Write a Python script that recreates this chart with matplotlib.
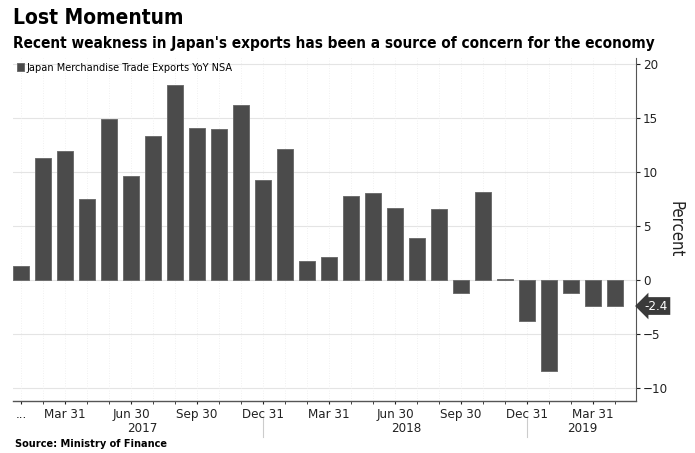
import matplotlib.pyplot as plt
from matplotlib.transforms import blended_transform_factory

plt.rcParams["font.family"] = ["DejaVu Sans"]
plt.rcParams["font.stretch"] = "condensed"

SERIES_NAME = "Japan Merchandise Trade Exports YoY NSA"
MONTHS = [
    "2017-01", "2017-02", "2017-03", "2017-04", "2017-05", "2017-06",
    "2017-07", "2017-08", "2017-09", "2017-10", "2017-11", "2017-12",
    "2018-01", "2018-02", "2018-03", "2018-04", "2018-05", "2018-06",
    "2018-07", "2018-08", "2018-09", "2018-10", "2018-11", "2018-12",
    "2019-01", "2019-02", "2019-03", "2019-04",
]
EXPORTS_YOY = [
    1.3, 11.3, 12.0, 7.5, 14.9, 9.7, 13.4, 18.1, 14.1, 14.0, 16.2, 9.3,
    12.2, 1.8, 2.1, 7.8, 8.1, 6.7, 3.9, 6.6, -1.2, 8.2, 0.1, -3.8,
    -8.4, -1.2, -2.4, -2.4,
]
TICK_MONTHS = [
    "2017-01", "2017-03", "2017-06", "2017-09", "2017-12",
    "2018-03", "2018-06", "2018-09", "2018-12", "2019-03",
]
TICK_LABELS = [
    "...", "Mar 31", "Jun 30", "Sep 30", "Dec 31",
    "Mar 31", "Jun 30", "Sep 30", "Dec 31", "Mar 31",
]
YEARS = ["2017", "2018", "2019"]
Y_TICKS = [-10, -5, 0, 5, 10, 15, 20]

BAR_COLOR = "#4b4b4b"
AXIS_COLOR = "#555555"
TEXT_COLOR = "#222222"

fig = plt.figure(figsize=(6.95, 4.53), dpi=100)
ax = fig.add_axes([0.0187, 0.115, 0.8963, 0.757])

x = list(range(len(MONTHS)))
ax.bar(x, EXPORTS_YOY, width=0.73, color=BAR_COLOR, edgecolor="#6e6e6e",
       linewidth=0.7, label=SERIES_NAME, zorder=3)

ax.set_xlim(-0.36, len(MONTHS) - 1 + 0.95)
ax.set_ylim(-11.2, 20.6)

# grid
for v in Y_TICKS:
    ax.axhline(v, color="#e4e4e4", linewidth=0.8, zorder=1)
for xi in x:
    ax.axvline(xi, color="#ececec", linewidth=0.6, linestyle=(0, (1, 2)), zorder=1)

# axes styling
for side in ["left", "top"]:
    ax.spines[side].set_visible(False)
ax.spines["bottom"].set_color(AXIS_COLOR)
ax.spines["right"].set_color(AXIS_COLOR)
ax.spines["bottom"].set_linewidth(1.0)
ax.spines["right"].set_linewidth(0.8)

ax.yaxis.tick_right()
ax.yaxis.set_label_position("right")
ax.set_yticks(Y_TICKS)
ax.tick_params(axis="y", length=3, pad=2, labelsize=9.5, colors=TEXT_COLOR)
ax.set_ylabel("Percent", rotation=270, fontsize=12, labelpad=12, color=TEXT_COLOR)

tick_pos = [MONTHS.index(m) for m in TICK_MONTHS]
ax.set_xticks(tick_pos)
ax.set_xticklabels(TICK_LABELS)
ax.set_xticks(x, minor=True)
ax.tick_params(axis="x", which="both", length=2.5, pad=2.5, labelsize=9.5,
               colors=TEXT_COLOR)

# year labels and separators
tr = blended_transform_factory(ax.transData, ax.transAxes)
for year in YEARS:
    idx = [i for i, m in enumerate(MONTHS) if m.startswith(year)]
    center = (idx[0] + idx[-1]) / 2
    ax.text(center, -0.08, year, transform=tr, ha="center", va="center",
            fontsize=9.5, color=TEXT_COLOR)
    if year != YEARS[0]:
        sep = idx[0] - 1
        ax.plot([sep, sep], [-0.05, -0.105], transform=tr, color="#cccccc",
                linewidth=0.8, clip_on=False)

# last value callout
tr_y = blended_transform_factory(ax.transAxes, ax.transData)
ax.text(1.014, EXPORTS_YOY[-1], "%.1f" % EXPORTS_YOY[-1], transform=tr_y,
        ha="left", va="center", fontsize=9.5, color="white",
        bbox=dict(boxstyle="larrow,pad=0.18", facecolor="#3a3a3a",
                  edgecolor="none"))

ax.legend(loc="upper left", bbox_to_anchor=(-0.004, 1.005), frameon=False,
          fontsize=7.8, handlelength=0.6, handleheight=0.7,
          handletextpad=0.3, borderaxespad=0.2)

fig.text(0.018, 0.96, "Lost Momentum", fontsize=15, fontweight="bold",
         ha="left", va="center")
fig.text(0.018, 0.905,
         "Recent weakness in Japan's exports has been a source of concern for the economy",
         fontsize=11, fontweight="bold", ha="left", va="center")
fig.text(0.021, 0.02, "Source: Ministry of Finance", fontsize=7.8,
         fontweight="bold", ha="left", va="center")

fig.savefig("out.png", dpi=100)
